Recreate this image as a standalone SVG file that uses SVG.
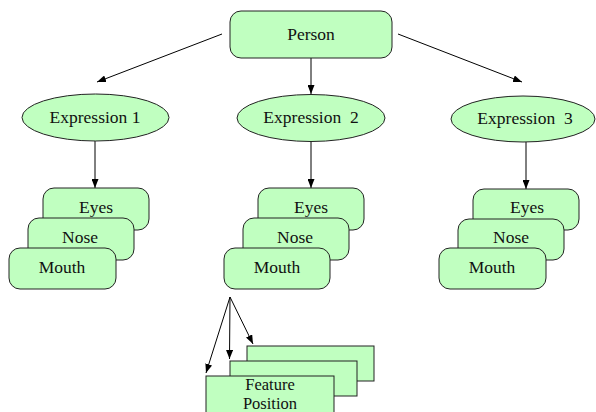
<svg xmlns="http://www.w3.org/2000/svg" width="596" height="412" viewBox="0 0 596 412">
<style>
.n{fill:#c0ffc0;stroke:#222;stroke-width:1}
.t{font-family:'Liberation Serif','Times New Roman',serif;font-size:17.5px;fill:#111;text-anchor:middle}
.f{font-size:16.5px}
.c{stroke:#000;stroke-width:1;fill:none;marker-end:url(#ah)}
</style>
<defs>
<marker id="ah" markerUnits="userSpaceOnUse" markerWidth="9" markerHeight="7" refX="9" refY="3.5" orient="auto">
<path d="M0,0 L9,3.5 L0,7 z" fill="#000"/>
</marker>
</defs>
<rect width="596" height="412" fill="#fff"/>
<g id="connectors">
<line class="c" x1="222" y1="34" x2="97" y2="82"/>
<line class="c" x1="311" y1="58" x2="311" y2="94"/>
<line class="c" x1="398" y1="34" x2="522" y2="82"/>
<line class="c" x1="95" y1="141" x2="95" y2="188"/>
<line class="c" x1="311" y1="141" x2="311" y2="188"/>
<line class="c" x1="526" y1="142" x2="526" y2="189"/>
<line class="c" x1="230" y1="297" x2="206" y2="373"/>
<line class="c" x1="230" y1="297" x2="229.5" y2="359"/>
<line class="c" x1="230" y1="297" x2="253" y2="344"/>
</g>
<g id="person">
<rect class="n" x="230" y="11" width="162" height="47" rx="11"/>
<text class="t" x="311" y="40">Person</text>
</g>
<g id="expression1">
<ellipse class="n" cx="95.5" cy="117.5" rx="73.5" ry="23.5"/>
<text class="t" x="95" y="123">Expression 1</text>
</g>
<g id="expression2">
<ellipse class="n" cx="311" cy="118" rx="74" ry="23.5"/>
<text class="t" x="311" y="123" xml:space="preserve">Expression  2</text>
</g>
<g id="expression3">
<ellipse class="n" cx="523" cy="119" rx="72" ry="23"/>
<text class="t" x="525" y="124" xml:space="preserve">Expression  3</text>
</g>
<g id="eyes1">
<rect class="n" x="43" y="188" width="106" height="42" rx="11"/>
<text class="t" x="96" y="213">Eyes</text>
</g>
<g id="nose1">
<rect class="n" x="28" y="218" width="106" height="42" rx="11"/>
<text class="t" x="80" y="243">Nose</text>
</g>
<g id="mouth1">
<rect class="n" x="9" y="248" width="107" height="41" rx="11"/>
<text class="t" x="62" y="273">Mouth</text>
</g>
<g id="eyes2">
<rect class="n" x="258" y="188" width="106" height="42" rx="11"/>
<text class="t" x="311" y="213">Eyes</text>
</g>
<g id="nose2">
<rect class="n" x="243" y="218" width="106" height="42" rx="11"/>
<text class="t" x="295" y="243">Nose</text>
</g>
<g id="mouth2">
<rect class="n" x="224" y="248" width="106" height="41" rx="11"/>
<text class="t" x="277" y="273">Mouth</text>
</g>
<g id="eyes3">
<rect class="n" x="473" y="189" width="106" height="41" rx="11"/>
<text class="t" x="527" y="213">Eyes</text>
</g>
<g id="nose3">
<rect class="n" x="458" y="219" width="106" height="41" rx="11"/>
<text class="t" x="511" y="243">Nose</text>
</g>
<g id="mouth3">
<rect class="n" x="439" y="248" width="107" height="41" rx="11"/>
<text class="t" x="492" y="273">Mouth</text>
</g>
<g id="feature3">
<rect class="n" x="247" y="346" width="127" height="35"/>
</g>
<g id="feature2">
<rect class="n" x="230" y="361" width="127" height="35"/>
</g>
<g id="feature1">
<rect class="n" x="206" y="376" width="128" height="40"/>
<text class="t f" x="270" y="389.5">Feature</text>
<text class="t f" x="270" y="408.5">Position</text>
</g>
</svg>
